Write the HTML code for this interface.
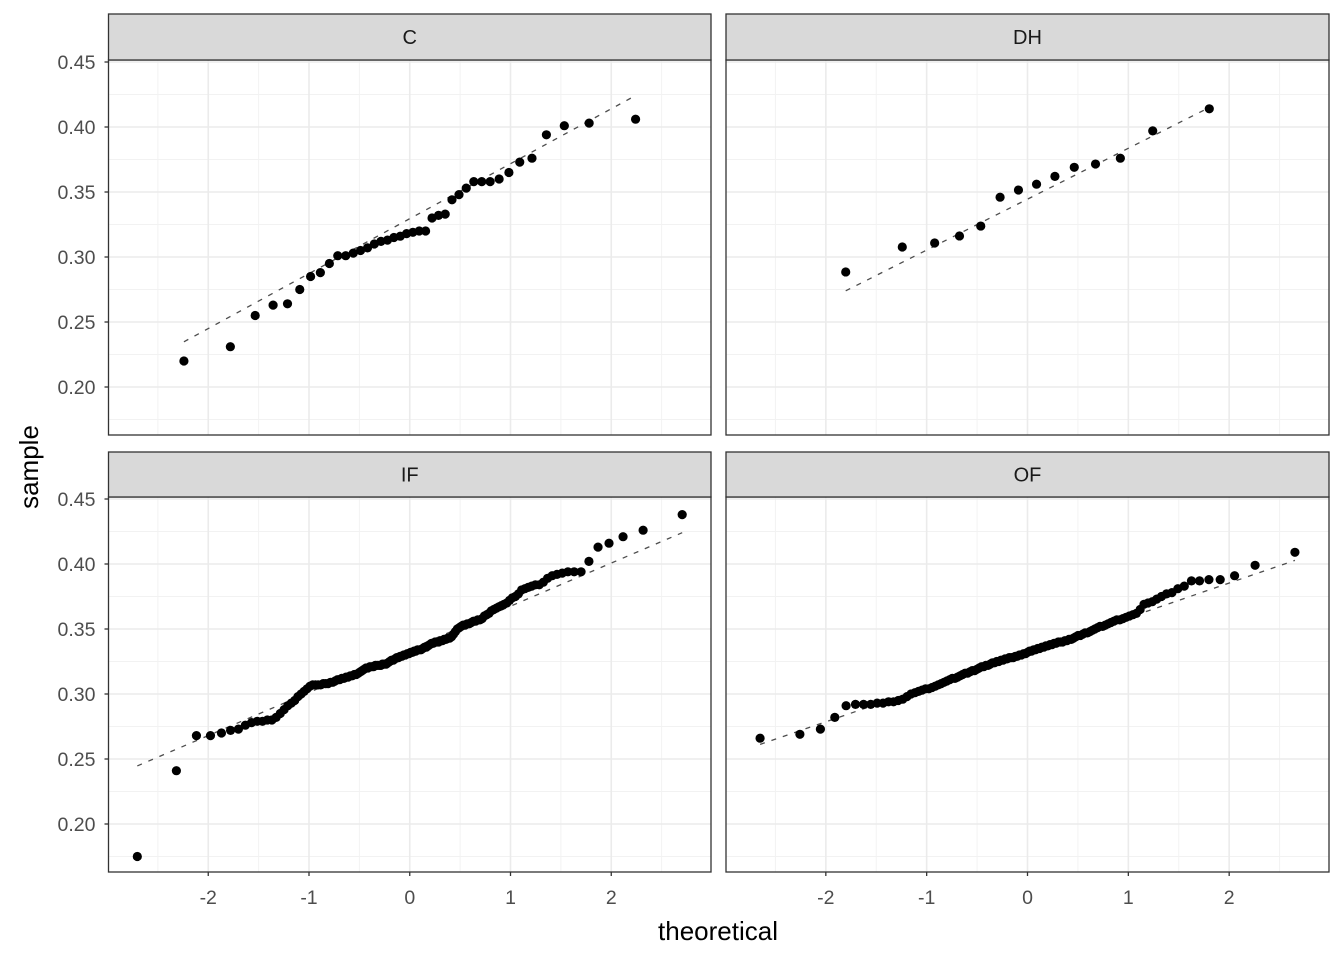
<!DOCTYPE html>
<html><head><meta charset="utf-8"><style>
html,body{margin:0;padding:0;background:#fff;}
svg{display:block;font-family:"Liberation Sans",Arial,sans-serif;}
</style></head><body>
<svg id="chart" width="1344" height="960" viewBox="0 0 1344 960"></svg>
<script>
const facetNames = ["C","DH","IF","OF"];
const sampleC = [0.220,0.231,0.255,0.263,0.264,0.275,0.285,0.288,0.295,0.301,0.301,0.303,0.305,0.307,0.310,0.312,0.313,0.315,0.316,0.318,0.319,0.320,0.320,0.330,0.332,0.333,0.344,0.348,0.353,0.358,0.358,0.358,0.360,0.365,0.373,0.376,0.394,0.401,0.403,0.406];
const sampleDH = [0.2885,0.3077,0.3108,0.3162,0.3238,0.346,0.3515,0.356,0.362,0.369,0.3715,0.376,0.397,0.414];
const sampleIF = [0.175,0.241,0.268,0.268,0.270,0.272,0.273,0.276,0.278,0.279,0.279,0.280,0.280,0.282,0.285,0.288,0.291,0.293,0.295,0.298,
0.300,0.302,0.304,0.306,0.307,0.307,0.307,0.307,0.308,0.308,0.308,0.309,0.309,0.310,0.311,0.311,0.312,0.312,0.313,0.313,
0.314,0.314,0.315,0.315,0.316,0.317,0.318,0.319,0.320,0.320,0.321,0.321,0.321,0.322,0.322,0.322,0.322,0.323,0.323,0.323,
0.324,0.325,0.326,0.326,0.327,0.328,0.328,0.329,0.329,0.330,0.330,0.331,
0.331,0.332,0.332,0.333,0.333,0.334,0.334,0.334,0.335,0.336,0.336,0.337,0.338,0.339,0.339,0.340,0.340,0.340,0.341,0.341,
0.342,0.342,0.343,0.343,0.344,0.346,0.348,0.350,0.351,0.352,0.353,0.353,0.354,0.354,0.355,0.356,0.356,0.357,0.357,0.358,
0.360,0.361,0.362,0.364,0.365,0.366,0.367,0.368,0.369,0.370,0.372,0.374,0.375,0.377,0.380,0.381,0.382,0.383,0.384,0.384,
0.386,0.389,0.391,0.392,0.393,0.394,0.394,0.394,0.402,0.413,0.416,0.421,0.426,0.438];
const sampleOF = [0.266,0.269,0.273,0.282,0.291,0.292,0.292,0.292,0.293,0.293,0.294,0.294,0.295,0.296,0.298,0.300,0.301,
0.302,0.303,0.304,0.304,0.305,0.306,0.307,0.308,
0.309,0.310,0.311,0.312,0.312,0.313,0.314,
0.315,0.316,0.316,0.317,0.318,0.318,0.319,0.320,
0.321,0.321,0.322,0.322,0.323,0.324,0.324,0.325,
0.325,0.326,0.326,0.327,0.327,0.328,0.328,0.328,
0.329,0.329,0.330,0.330,0.331,0.331,0.332,
0.333,0.333,0.334,0.334,0.335,0.335,0.336,
0.336,0.337,0.337,0.338,0.338,0.339,0.339,0.340,
0.340,0.340,0.341,0.341,0.342,0.342,0.343,0.344,
0.345,0.345,0.346,0.347,0.347,0.348,0.349,0.350,
0.351,0.352,0.352,0.353,0.354,0.355,0.356,
0.357,0.357,0.358,0.359,0.360,0.361,0.362,
0.365,0.369,0.370,0.371,0.373,0.375,0.377,0.378,0.381,0.383,0.387,0.387,0.388,0.388,0.391,0.399,0.409];
const xTicks = [-2,-1,0,1,2];
const xTickLabels = ["-2","-1","0","1","2"];
const yTicks = [0.20,0.25,0.30,0.35,0.40,0.45];
const yTickLabels = ["0.20","0.25","0.30","0.35","0.40","0.45"];

const samples = [sampleC, sampleDH, sampleIF, sampleOF];
const NS = "http://www.w3.org/2000/svg";
const svg = document.getElementById("chart");
function mk(tag, attrs, parent){const e=document.createElementNS(NS,tag);for(const k in attrs)e.setAttribute(k,attrs[k]);(parent||svg).appendChild(e);return e;}

function qnorm(p){
  const a=[-39.69683028665376,220.9460984245205,-275.9285104469687,138.3577518672690,-30.66479806614716,2.506628277459239];
  const b=[-54.47609879822406,161.5858368580409,-155.6989798598866,66.80131188771972,-13.28068155288572];
  const c=[-0.007784894002430293,-0.3223964580411365,-2.400758277161838,-2.549732539343734,4.374664141464968,2.938163982698783];
  const d=[0.007784695709041462,0.3224671290700398,2.445134137142996,3.754408661907416];
  const pl=0.02425;let q,r;
  if(p<pl){q=Math.sqrt(-2*Math.log(p));return (((((c[0]*q+c[1])*q+c[2])*q+c[3])*q+c[4])*q+c[5])/((((d[0]*q+d[1])*q+d[2])*q+d[3])*q+1);}
  if(p>1-pl){q=Math.sqrt(-2*Math.log(1-p));return -(((((c[0]*q+c[1])*q+c[2])*q+c[3])*q+c[4])*q+c[5])/((((d[0]*q+d[1])*q+d[2])*q+d[3])*q+1);}
  q=p-0.5;r=q*q;return (((((a[0]*r+a[1])*r+a[2])*r+a[3])*r+a[4])*r+a[5])*q/(((((b[0]*r+b[1])*r+b[2])*r+b[3])*r+b[4])*r+1);
}
function ppoints(n){const a=n<=10?3/8:0.5;const out=[];for(let i=1;i<=n;i++)out.push((i-a)/(n+1-2*a));return out;}
function quantile7(s,p){const v=s.slice().sort((x,y)=>x-y);const h=(v.length-1)*p;const lo=Math.floor(h);return v[lo]+(h-lo)*((v[Math.min(lo+1,v.length-1)])-v[lo]);}

const cols=[{x0:108.5,x1:711},{x0:726,x1:1329}];
const rows=[{s0:14,p0:60,p1:435},{s0:452,p0:497,p1:872}];
const xDom=[-2.99,2.99], yDom=[0.16308,0.45154];

facetNames.forEach((name,fi)=>{
  const col=cols[fi%2], row=rows[Math.floor(fi/2)];
  const sx=v=>col.x0+(v-xDom[0])/(xDom[1]-xDom[0])*(col.x1-col.x0);
  const sy=v=>row.p1-(v-yDom[0])/(yDom[1]-yDom[0])*(row.p1-row.p0);
  const g=mk("g",{});
  
  
  mk("rect",{x:col.x0,y:row.p0,width:col.x1-col.x0,height:row.p1-row.p0,fill:"#fff"},g);
  // minor grid
  for(let v=-2.5;v<=2.5;v+=1){mk("line",{x1:sx(v),x2:sx(v),y1:row.p0,y2:row.p1,stroke:"#f2f2f2","stroke-width":1},g);}
  for(let v=0.175;v<=0.45;v+=0.05){mk("line",{x1:col.x0,x2:col.x1,y1:sy(v),y2:sy(v),stroke:"#f2f2f2","stroke-width":1},g);}
  xTicks.forEach(v=>mk("line",{x1:sx(v),x2:sx(v),y1:row.p0,y2:row.p1,stroke:"#ebebeb","stroke-width":1.6},g));
  yTicks.forEach(v=>mk("line",{x1:col.x0,x2:col.x1,y1:sy(v),y2:sy(v),stroke:"#ebebeb","stroke-width":1.6},g));
  // data
  const s=samples[fi].slice().sort((a,b)=>a-b);
  const th=ppoints(s.length).map(qnorm);
  const yq1=quantile7(s,0.25), yq3=quantile7(s,0.75);
  const xq1=qnorm(0.25), xq3=qnorm(0.75);
  const slope=(yq3-yq1)/(xq3-xq1), icpt=yq1-slope*xq1;
  const xa=th[0], xb=th[th.length-1];
  const ln=mk("line",{x1:sx(xa),y1:sy(icpt+slope*xa),x2:sx(xb),y2:sy(icpt+slope*xb),stroke:"#4d4d4d","stroke-width":1.3,"stroke-dasharray":"5,7"},g);
  
  
  s.forEach((v,i)=>{
    const c=mk("circle",{cx:sx(th[i]),cy:sy(v),r:4.6,fill:"#000"},g);
    
    
  });
  mk("rect",{x:col.x0,y:row.p0,width:col.x1-col.x0,height:row.p1-row.p0,fill:"none",stroke:"#333","stroke-width":1.3},g);
  // strip
  const st=mk("rect",{x:col.x0,y:row.s0,width:col.x1-col.x0,height:row.p0-row.s0,fill:"#d9d9d9",stroke:"#333","stroke-width":1.3},g);
  
  
  const tl=mk("text",{x:(col.x0+col.x1)/2,y:(row.s0+row.p0)/2+7,"text-anchor":"middle","font-size":"20px",fill:"#1a1a1a"},g);
  tl.textContent=name;
  
  
  // y axis on left column
  if(fi%2===0){
    yTicks.forEach((v,k)=>{
      mk("line",{x1:col.x0-4,x2:col.x0,y1:sy(v),y2:sy(v),stroke:"#333","stroke-width":1.3},g);
      const t=mk("text",{x:col.x0-13,y:sy(v)+7,"text-anchor":"end","font-size":"19.5px",fill:"#4d4d4d"},g);
      t.textContent=yTickLabels[k];
      
      
    });
  }
  if(fi>=2){
    xTicks.forEach((v,k)=>{
      mk("line",{x1:sx(v),x2:sx(v),y1:row.p1,y2:row.p1+4,stroke:"#333","stroke-width":1.3},g);
      const t=mk("text",{x:sx(v),y:row.p1+32,"text-anchor":"middle","font-size":"19.5px",fill:"#4d4d4d"},g);
      t.textContent=xTickLabels[k];
      
      
    });
  }
});
const xt=mk("text",{x:718,y:940,"text-anchor":"middle","font-size":"26px",fill:"#000"});
xt.textContent="theoretical";


const yt=mk("text",{x:0,y:0,"text-anchor":"middle","font-size":"26px",fill:"#000",transform:"translate(38,467) rotate(-90)"});
yt.textContent="sample";


</script>
</body></html>
